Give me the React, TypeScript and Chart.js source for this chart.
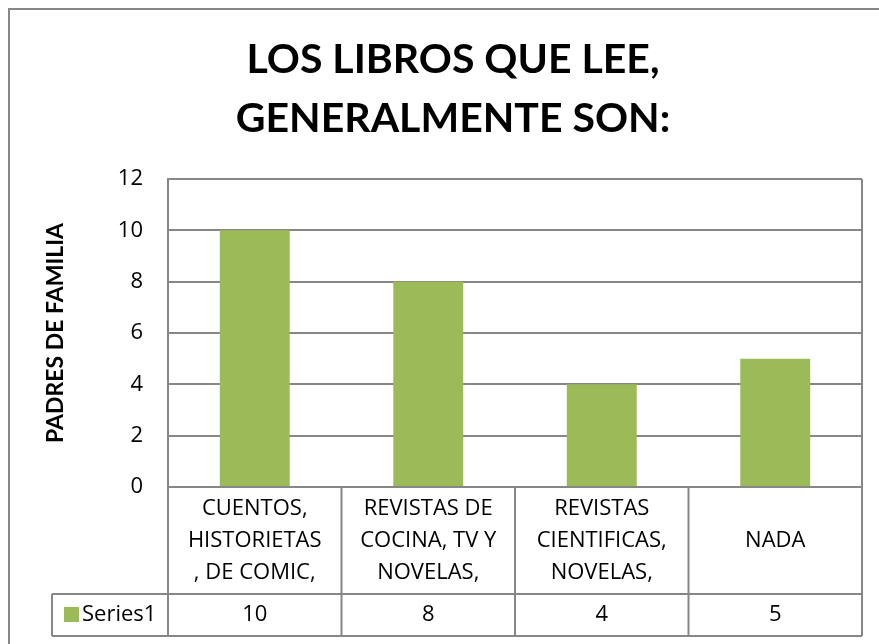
import React, { useEffect, useRef } from "react";
import { Chart, registerables } from "chart.js";

Chart.register(...registerables);

const titleLines = ["LOS LIBROS QUE LEE,", "GENERALMENTE SON:"];
const yAxisTitle = "PADRES DE FAMILIA";
const categories: (string | string[])[] = [
  ["CUENTOS,", "HISTORIETAS", ", DE COMIC,"],
  ["REVISTAS DE", "COCINA, TV Y", "NOVELAS,"],
  ["REVISTAS", "CIENTIFICAS,", "NOVELAS,"],
  "NADA",
];
const seriesName = "Series1";
const values = [10, 8, 4, 5];
const yMin = 0;
const yMax = 12;
const yStep = 2;

const TITLE_FONT = "Lato, 'Liberation Sans', sans-serif";
const FONT = "'Open Sans', Lato, 'Liberation Sans', sans-serif";
const TEXT_SIZE = 22;
const GRID = "#878787";
const BAR = "#9BBB59";

// Excel-style title, centred on the full (partly cropped) chart object
const titlePlugin = {
  id: "excelTitle",
  afterDraw(chart: any) {
    const { ctx } = chart;
    ctx.save();
    ctx.fillStyle = "#000";
    ctx.font = `bold 41px ${TITLE_FONT}`;
    ctx.textAlign = "center";
    ctx.textBaseline = "alphabetic";
    ctx.fillText(titleLines[0], 453, 73);
    ctx.fillText(titleLines[1], 453, 132);
    ctx.restore();
  },
};

const tablePlugin = {
  id: "excelDataTable",
  afterDraw(chart: any) {
    const { ctx, chartArea, scales } = chart;
    const xs = scales.x;
    const n = values.length;
    const top = chartArea.top;
    const bottom = chartArea.bottom;
    const right = chartArea.right;
    const catBottom = xs.bottom;
    const rowBottom = catBottom + 42;
    const legendLeft = 52;
    const edges: number[] = [];
    for (let i = 0; i <= n; i++) edges.push(xs.getPixelForValue(i - 0.5));
    ctx.save();
    ctx.strokeStyle = GRID;
    ctx.lineWidth = 2;
    ctx.beginPath();
    ctx.rect(9, 9, 1000, 1000);
    ctx.moveTo(right, top);
    ctx.lineTo(right, rowBottom);
    for (let i = 0; i < n; i++) {
      ctx.moveTo(edges[i], bottom);
      ctx.lineTo(edges[i], rowBottom);
    }
    ctx.moveTo(legendLeft, catBottom);
    ctx.lineTo(right, catBottom);
    ctx.moveTo(legendLeft, rowBottom);
    ctx.lineTo(right, rowBottom);
    ctx.moveTo(legendLeft, catBottom);
    ctx.lineTo(legendLeft, rowBottom);
    ctx.stroke();

    const cy = (catBottom + rowBottom) / 2;
    ctx.fillStyle = BAR;
    ctx.fillRect(64, cy - 8, 15, 15);
    ctx.fillStyle = "#000";
    ctx.font = `${TEXT_SIZE}px ${FONT}`;
    ctx.textBaseline = "middle";
    ctx.textAlign = "left";
    ctx.fillText(seriesName, 82, cy);
    ctx.textAlign = "center";
    for (let i = 0; i < n; i++) {
      ctx.fillText(String(values[i]), (edges[i] + edges[i + 1]) / 2, cy);
    }
    ctx.restore();
  },
};

export default function App() {
  const ref = useRef<HTMLCanvasElement>(null);
  useEffect(() => {
    if (!ref.current) return;
    const chart = new Chart(ref.current, {
      type: "bar",
      data: {
        labels: categories,
        datasets: [
          {
            label: seriesName,
            data: values,
            backgroundColor: BAR,
            borderWidth: 0,
            barPercentage: 0.403,
            categoryPercentage: 1,
          },
        ],
      },
      options: {
        animation: false,
        responsive: false,
        devicePixelRatio: 1,
        layout: { padding: { left: 0, right: 17, top: 179, bottom: 50 } },
        plugins: {
          legend: { display: false },
          tooltip: { enabled: false },
          title: { display: false },
        },
        scales: {
          x: {
            offset: true,
            grid: { display: false, drawTicks: false },
            border: { display: false },
            ticks: {
              color: "#000",
              font: { family: FONT, size: TEXT_SIZE, lineHeight: "32px" },
              maxRotation: 0,
              minRotation: 0,
              autoSkip: false,
              crossAlign: "center",
              padding: 22,
            },
            afterFit(scale: any) {
              scale.height = 107;
            },
          },
          y: {
            min: yMin,
            max: yMax,
            ticks: {
              stepSize: yStep,
              color: "#000",
              font: { family: FONT, size: TEXT_SIZE },
              padding: 25,
            },
            grid: { color: GRID, lineWidth: 2, drawTicks: false },
            border: { display: true, color: GRID, width: 2 },
            title: {
              display: true,
              text: yAxisTitle,
              color: "#000",
              font: { family: TITLE_FONT, size: 23, weight: "bold", lineHeight: 1.2 },
              padding: { top: 42, bottom: 0 },
            },
            afterFit(scale: any) {
              scale.width = 168;
            },
          },
        },
      },
      plugins: [tablePlugin, titlePlugin],
    });
    return () => chart.destroy();
  }, []);
  return (
    <div style={{ position: "fixed", left: 0, top: 0, width: 879, height: 644, background: "#fff" }}>
      <canvas ref={ref} width={879} height={644} style={{ display: "block" }} />
    </div>
  );
}
